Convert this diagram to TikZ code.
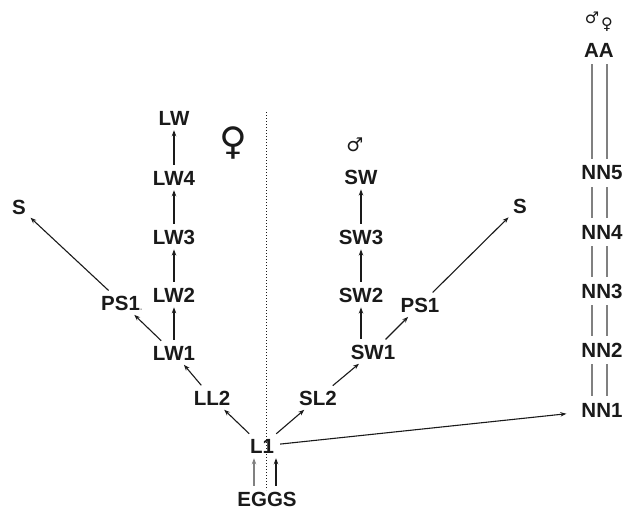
\documentclass[tikz,border=0pt]{standalone}
\usepackage{fontspec}
\setmainfont{Liberation Sans}
\newfontfamily\symfont{DejaVu Sans}
\usetikzlibrary{arrows.meta}
\definecolor{ink}{HTML}{1A1A1A}
\definecolor{pairline}{HTML}{808080}
\begin{document}
\begin{tikzpicture}[x=1pt,y=-1pt,
  lbl/.style={font=\fontsize{20.5}{21}\selectfont\bfseries, text=ink, inner sep=3pt},
  sym/.style={font=\symfont, text=ink, inner sep=0pt},
  arr/.style={-{Stealth[length=6pt,width=4.5pt]}, draw=ink, line width=1.1pt,
              shorten >=2pt, shorten <=3pt},
  dbl/.style={draw=pairline, line width=1.5pt}]
\useasboundingbox (0,0) rectangle (625,512);

% female branch
\node[lbl] (LW)  at (174,118) {LW};
\node[lbl] (LW4) at (174,178) {LW4};
\node[lbl] (LW3) at (174,237) {LW3};
\node[lbl] (LW2) at (174,295) {LW2};
\node[lbl] (LW1) at (174,353) {LW1};
\node[lbl] (LL2) at (212,398) {LL2};
\node[lbl] (PSl) at (122,303) {PS1\textcolor{gray!70}{\fontsize{10}{10}\selectfont.}};
\node[lbl] (Sl)  at (19,207) {S};

% common start
\node[lbl] (L1)   at (262,446) {L1};
\node[lbl] (EGGS) at (267,499) {EGGS};

% male branch
\node[lbl] (SW)  at (361,177) {SW};
\node[lbl] (SW3) at (361,237) {SW3};
\node[lbl] (SW2) at (361,295) {SW2};
\node[lbl] (SW1) at (373,352) {SW1};
\node[lbl] (SL2) at (318,398) {SL2};
\node[lbl] (PSr) at (420,305) {PS1};
\node[lbl] (Sr)  at (520,206) {S};

% sex symbols
\node[sym, font=\symfont\fontsize{38}{38}\selectfont] (fem) at (233,143) {♀};
\node[sym, font=\symfont\fontsize{19}{19}\selectfont] (mal) at (355,145) {♂};
\node[sym, font=\symfont\fontsize{16}{16}\selectfont] (mtop) at (592,18) {♂};
\node[sym, font=\symfont\fontsize{16}{16}\selectfont] (ftop) at (607,25) {♀};

% parthenogenetic column
\node[lbl] (AA)  at (599,50)  {AA};
\node[lbl] (NN5) at (602,173) {NN5};
\node[lbl] (NN4) at (602,232) {NN4};
\node[lbl] (NN3) at (602,291) {NN3};
\node[lbl] (NN2) at (602,350) {NN2};
\node[lbl] (NN1) at (602,410) {NN1};

% separator between the sexes
\draw[ink, dotted, line width=1pt] (266,112) -- (266,490);

% eggs hatch
\coordinate (ea) at ([xshift=-8pt]L1.south);
\coordinate (eb) at ([xshift=14pt]L1.south);
\draw[arr, draw=gray] (ea |- EGGS.north) -- (ea);
\draw[arr] (eb |- EGGS.north) -- (eb);

% female development
\draw[arr] (L1) -- (LL2);
\draw[arr] (LL2) -- (LW1);
\draw[arr] (LW1) -- (LW2);
\draw[arr] (LW2) -- (LW3);
\draw[arr] (LW3) -- (LW4);
\draw[arr] (LW4) -- (LW);
\draw[arr] (LW1) -- (PSl);
\draw[arr] (PSl) -- (Sl);

% male development
\draw[arr] (L1) -- (SL2);
\draw[arr] (SL2) -- (SW1);
\draw[arr] (SW1.north -| SW2) -- (SW2);
\draw[arr] (SW2) -- (SW3);
\draw[arr] (SW3) -- (SW);
\draw[arr] (SW1) -- (PSr);
\draw[arr] (PSr) -- (Sr);

% to the parthenogenetic line
\draw[arr, shorten >=12pt] (L1) -- (NN1);

% paired links
\coordinate (cl) at (592,0);
\coordinate (cr) at (607,0);
\foreach \a/\b in {AA/NN5, NN5/NN4, NN4/NN3, NN3/NN2, NN2/NN1} {
  \draw[dbl] ([yshift=-4pt]\a.south -| cl) -- ([yshift=4pt]\b.north -| cl);
  \draw[dbl] ([yshift=-4pt]\a.south -| cr) -- ([yshift=4pt]\b.north -| cr);
}
\end{tikzpicture}
\end{document}
